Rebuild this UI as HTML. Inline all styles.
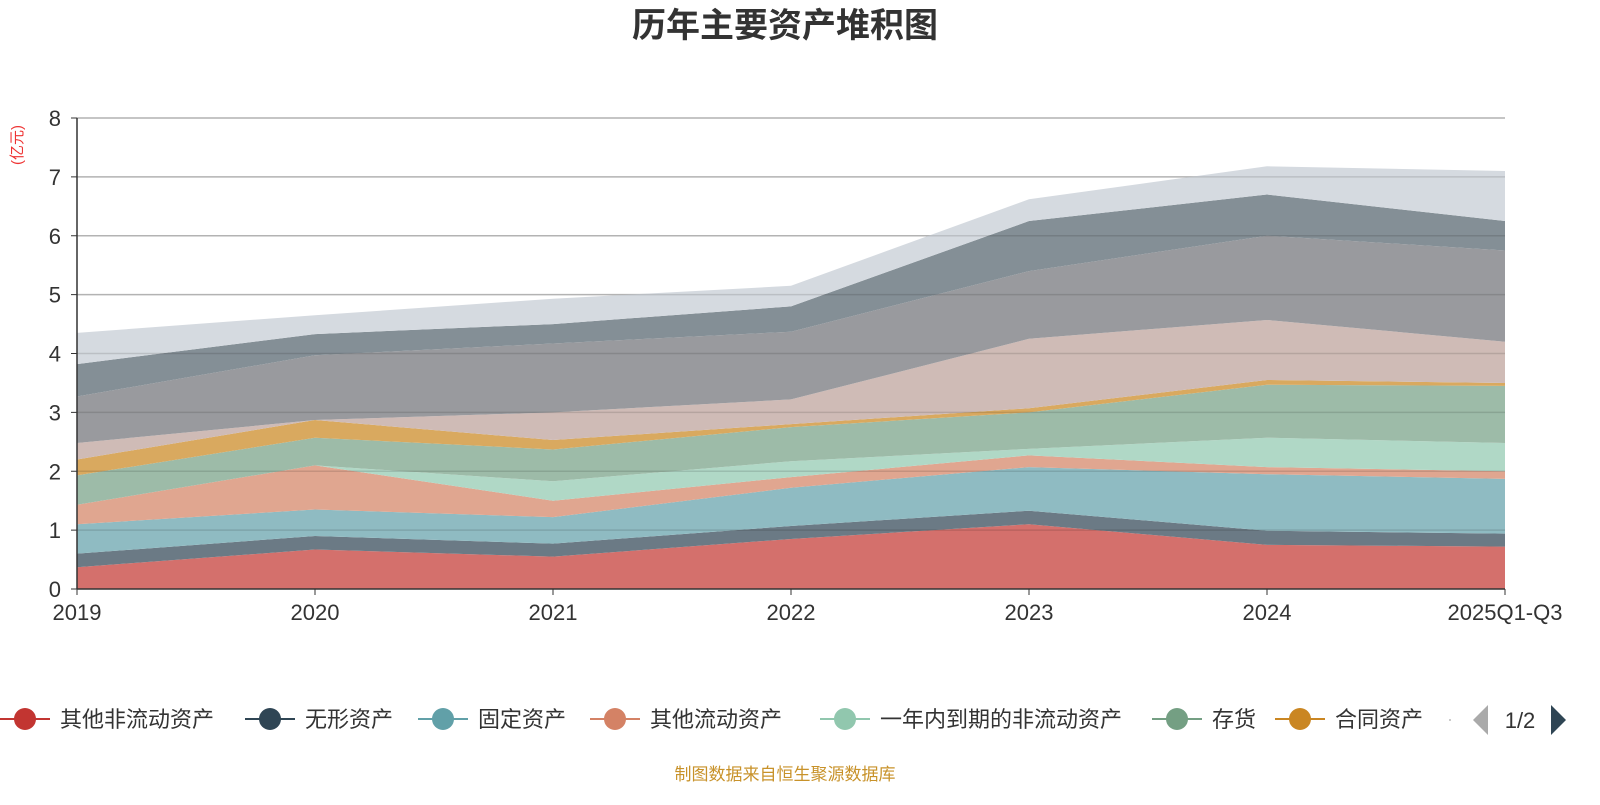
<!DOCTYPE html>
<html><head><meta charset="utf-8"><style>
body{margin:0;background:#fff;font-family:"Liberation Sans","Noto Sans CJK SC",sans-serif}
</style></head><body>
<svg id="c" width="1600" height="800" xmlns="http://www.w3.org/2000/svg" font-family="Liberation Sans, Noto Sans CJK SC, sans-serif">
<text x="785" y="37" text-anchor="middle" font-size="34" font-weight="bold" fill="#333">历年主要资产堆积图</text>
<text transform="translate(22,145) rotate(-90)" text-anchor="middle" font-size="15" fill="#e33">(亿元)</text>
<g id="grid"></g><g id="areas"></g><g id="axes"></g>
<g id="legend" font-size="22" fill="#333"></g>
<text x="785" y="780" text-anchor="middle" font-size="17" fill="#c8922a">制图数据来自恒生聚源数据库</text>
</svg>
<script>
const categories=["2019","2020","2021","2022","2023","2024","2025Q1-Q3"];
const seriesNames=["其他非流动资产","无形资产","固定资产","其他流动资产","一年内到期的非流动资产","存货","合同资产","s8","s9","s10","s11"];
const s1=[0.37,0.67,0.55,0.85,1.10,0.75,0.72];
const s2=[0.23,0.23,0.22,0.22,0.23,0.24,0.22];
const s3=[0.50,0.45,0.45,0.65,0.74,0.96,0.93];
const s4=[0.33,0.75,0.28,0.18,0.20,0.12,0.13];
const s5=[0,0,0.33,0.27,0.11,0.50,0.48];
const s6=[0.50,0.47,0.54,0.58,0.62,0.90,0.97];
const s7=[0.27,0.30,0.16,0.05,0.07,0.08,0.05];
const s8=[0.28,0,0.47,0.42,1.18,1.02,0.70];
const s9=[0.79,1.10,1.17,1.15,1.15,1.43,1.55];
const s10=[0.55,0.36,0.33,0.43,0.85,0.70,0.50];
const s11=[0.53,0.32,0.43,0.35,0.37,0.48,0.85];
const yTicks=[0,1,2,3,4,5,6,7,8];
const series=[s1,s2,s3,s4,s5,s6,s7,s8,s9,s10,s11];
const fills=["#d4706c","#6b7a85","#8fbbc2","#e0a690","#b0d8c6","#9dbba8","#d9a95f","#cfbbb6","#999a9e","#848f96","#d5dae0"];
const legendColors=["#c23531","#2f4554","#61a0a8","#d48265","#91c7ae","#749f83","#ca8622"];
const NS="http://www.w3.org/2000/svg";
const X0=77,X1=1505,Y0=589,Y1=118,YMAX=8;
const x=i=>X0+i*(X1-X0)/(categories.length-1);
const y=v=>Y0-v*(Y0-Y1)/YMAX;
function mk(t,a,p){const e=document.createElementNS(NS,t);for(const k in a)e.setAttribute(k,a[k]);p.appendChild(e);return e;}
const grid=document.getElementById('grid'),areas=document.getElementById('areas'),axes=document.getElementById('axes'),leg=document.getElementById('legend');
yTicks.forEach(t=>{
 if(t>0){const l=mk('line',{x1:X0,x2:X1,y1:y(t),y2:y(t),stroke:'#ccc','stroke-width':1.5},grid);
 
 }
 const tk=mk('line',{x1:X0-6,x2:X0,y1:y(t),y2:y(t),stroke:'#333'},axes);
 
 
 const tx=mk('text',{x:X0-16,y:y(t)+8,'text-anchor':'end','font-size':22,fill:'#333'},axes);tx.textContent=t;
 
 
});
let base=categories.map(()=>0);
series.forEach((s,k)=>{
 const top=base.map((b,i)=>b+s[i]);
 let d='M'+top.map((v,i)=>x(i)+','+y(v)).join('L');
 for(let i=categories.length-1;i>=0;i--)d+='L'+x(i)+','+y(base[i]);
 const p=mk('path',{d:d+'Z',fill:fills[k],stroke:'none'},areas);
 
 
 base=top;
});
yTicks.forEach(t=>{if(t>0){const l=mk('line',{x1:X0,x2:X1,y1:y(t),y2:y(t),stroke:'rgba(0,0,0,0.12)','stroke-width':1.5},axes);
 
 }});
const ya=mk('line',{x1:X0,x2:X0,y1:Y1,y2:Y0,stroke:'#333','stroke-width':1.5},axes);


const xa=mk('line',{x1:X0,x2:X1,y1:Y0,y2:Y0,stroke:'#333','stroke-width':1.5},axes);


categories.forEach((c,i)=>{
 const tk=mk('line',{x1:x(i),x2:x(i),y1:Y0,y2:Y0+6,stroke:'#333'},axes);
 
 
 const tx=mk('text',{x:x(i),y:620,'text-anchor':'middle','font-size':22,fill:'#333'},axes);tx.textContent=c;
 
 
});
const legX=[25,270,443,615,845,1177,1300];
legX.forEach((cx,k)=>{
 const g=mk('g',{},leg);
 
 
 mk('line',{x1:cx-25,x2:cx+25,y1:719,y2:719,stroke:legendColors[k],'stroke-width':2},g);
 mk('circle',{cx:cx,cy:719,r:11,fill:legendColors[k]},g);
 const t=mk('text',{x:cx+35,y:727},g);t.textContent=seriesNames[k];
});
const dot=mk('circle',{cx:1450,cy:720,r:1,fill:'#bbb'},leg);


const pv=mk('path',{d:'M1488,705 L1473,720 L1488,735Z',fill:'#aaa'},leg);


const pg=mk('text',{x:1520,y:728,'text-anchor':'middle','font-size':22},leg);pg.textContent='1/2';


const nx=mk('path',{d:'M1551,705 L1566,720 L1551,735Z',fill:'#2f4554'},leg);


</script>
</body></html>
